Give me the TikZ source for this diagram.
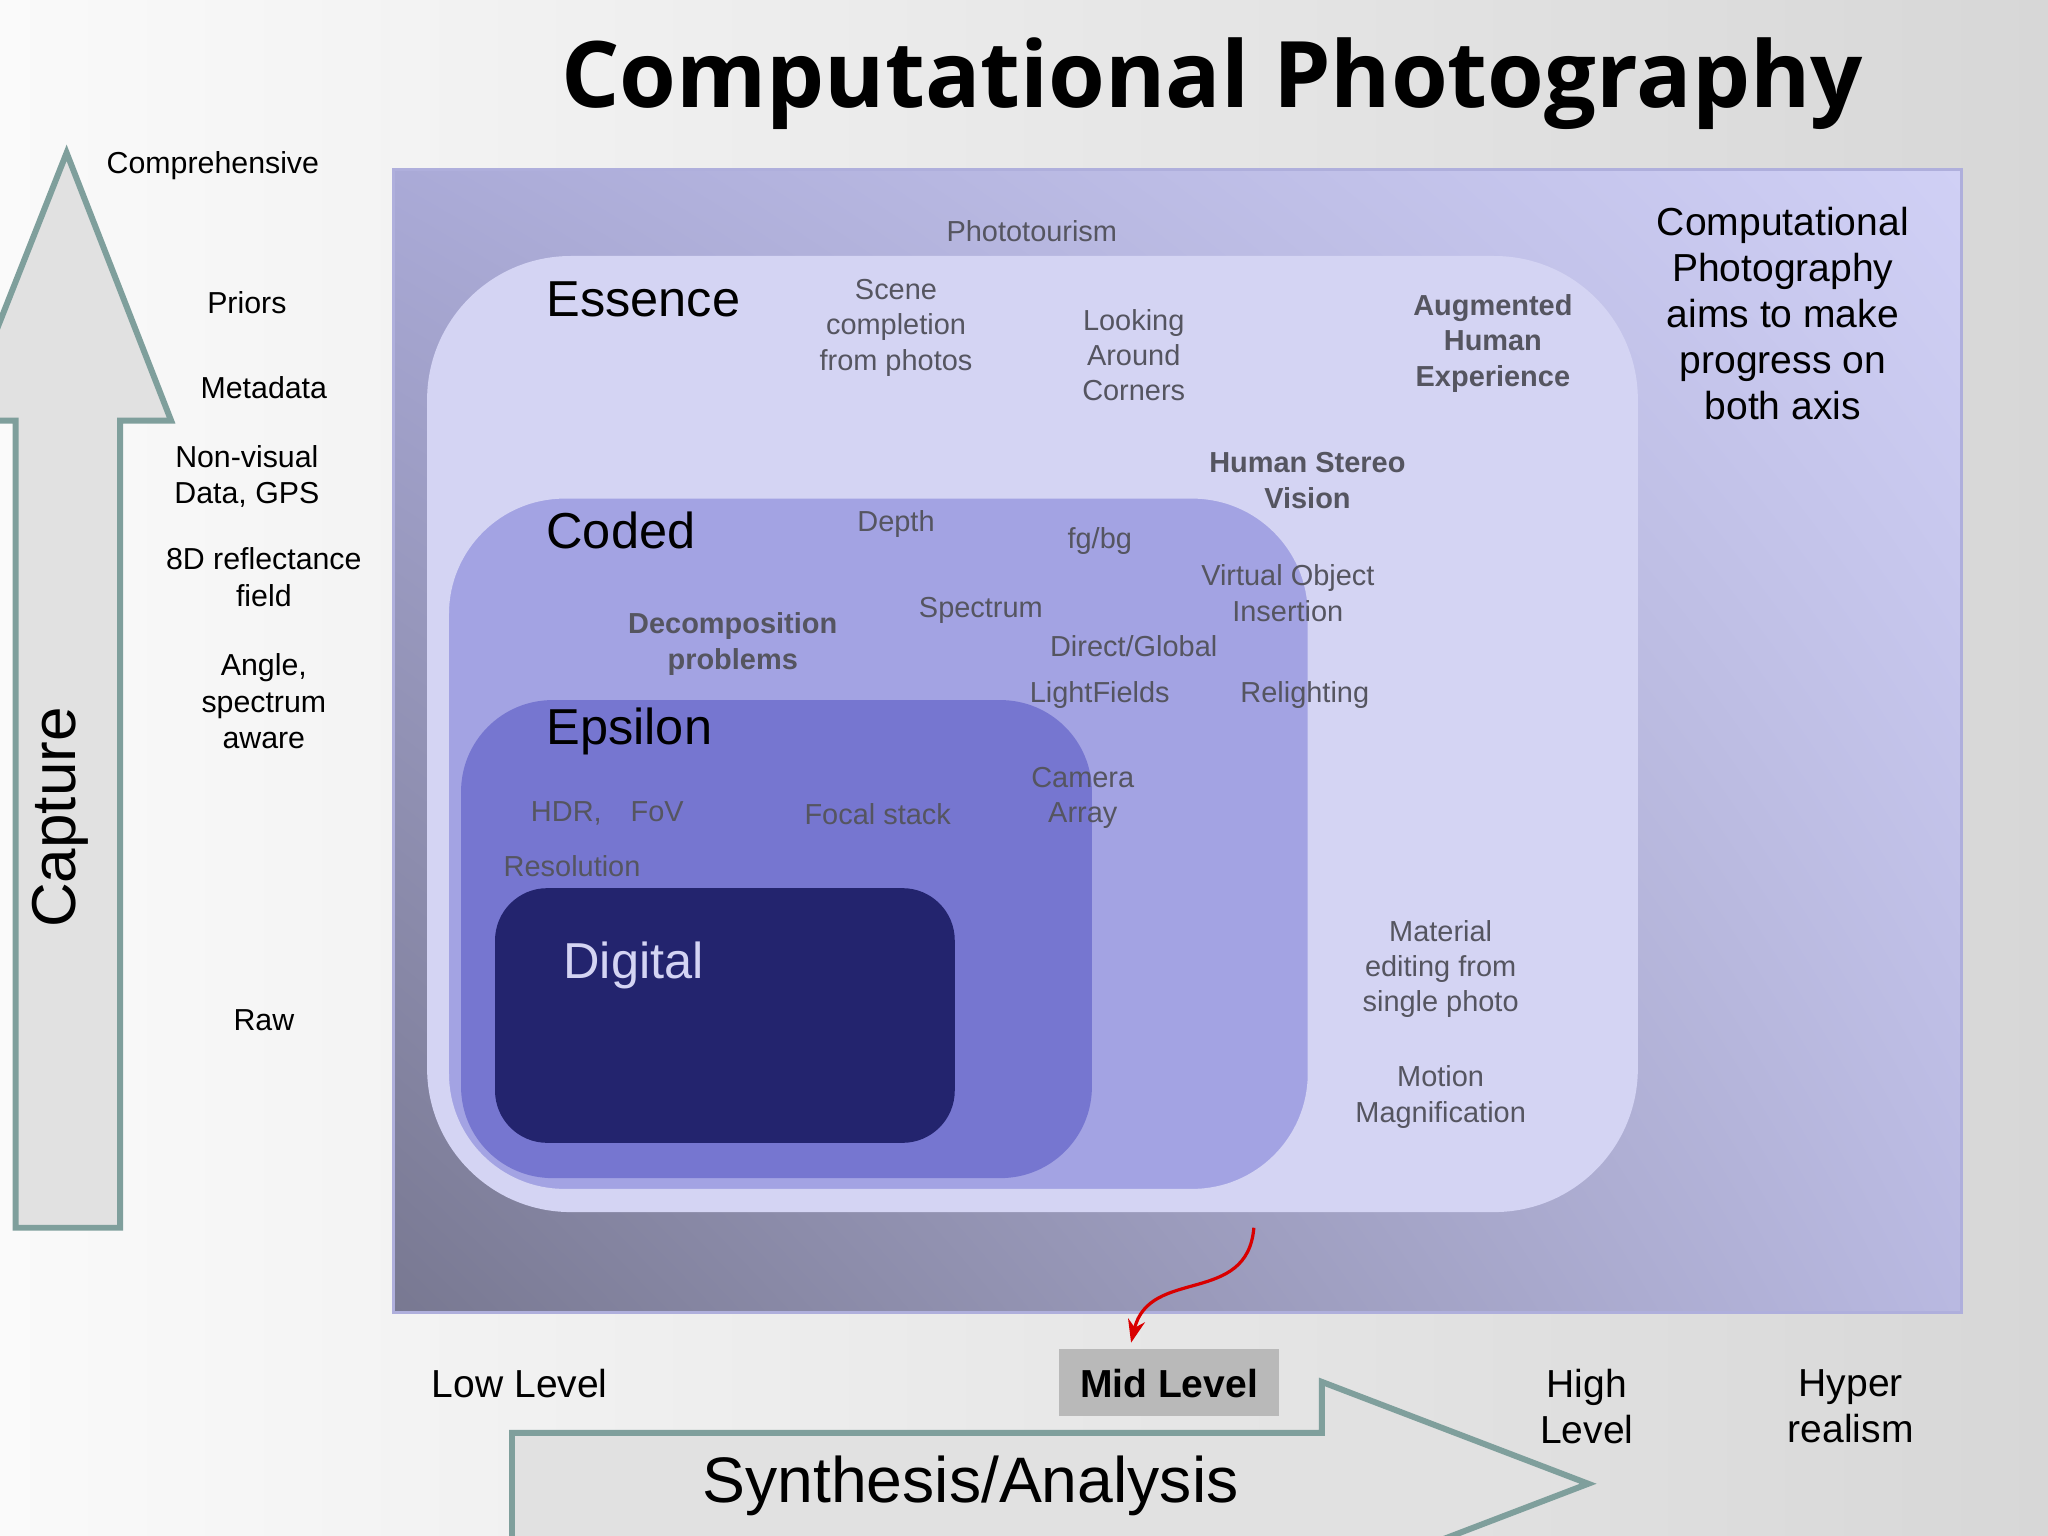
\documentclass[tikz,border=0pt]{standalone}
\usepackage{fontspec}
\setmainfont{Liberation Sans}
\newfontfamily\titlefont{Open Sans}
\usetikzlibrary{arrows.meta,shadings}
\definecolor{lbl}{HTML}{555560}
\definecolor{arw}{HTML}{7F9F9C}
\definecolor{ul}{RGB}{170,170,215}
\definecolor{ur}{RGB}{208,208,245}
\definecolor{ll}{RGB}{120,120,145}
\definecolor{lr}{RGB}{185,185,225}
\definecolor{rim}{RGB}{175,175,220}
\definecolor{cess}{RGB}{212,212,243}
\definecolor{ccod}{RGB}{163,163,227}
\definecolor{ceps}{RGB}{118,118,208}
\definecolor{cdig}{RGB}{35,36,110}
\definecolor{afill}{RGB}{225,225,225}
\definecolor{bgr}{RGB}{215,215,215}
\definecolor{bgl}{RGB}{250,250,250}
\tikzset{
 side/.style={align=center,font=\fontsize{6.6pt}{7.9pt}\selectfont},
 gl/.style={align=center,text=lbl,font=\fontsize{6.3pt}{7.7pt}\selectfont},
 glb/.style={gl,font=\fontsize{6.3pt}{7.7pt}\selectfont\bfseries},
 big/.style={anchor=west,font=\fontsize{11pt}{11pt}\selectfont},
 lev/.style={align=center,font=\fontsize{8.5pt}{10pt}\selectfont},
}
\begin{document}
\begin{tikzpicture}[x=0.01cm,y=-0.01cm]
\useasboundingbox (0,0) rectangle (1568,1176);
\shade[upper left=bgl,upper right=bgr,lower left=bgl,lower right=bgr] (0,0) rectangle (1568,1176);
\shade[upper left=ul,upper right=ur,lower left=ll,lower right=lr] (301,130) rectangle (1502,1005);
\draw[draw=rim,line width=0.6pt] (301,130) rectangle (1502,1005);
\node[font=\titlefont\bfseries\fontsize{20pt}{20pt}\selectfont] (title) at (928,64) {Computational Photography};
% regions
\fill[cess,rounded corners=1.1cm] (327,196) rectangle (1254,928);
\fill[ccod,rounded corners=0.9cm] (342,380) rectangle (1003,912);
\draw[cess,line width=1pt,rounded corners=0.9cm] (342,380) rectangle (1003,912);
\fill[ceps,rounded corners=0.7cm] (353,536) rectangle (836,902);
\fill[cdig,rounded corners=0.4cm] (379,680) rectangle (731,875);
\node[big] (ess) at (406,229) {Essence};
\node[big] (cod) at (406,406) {Coded};
\node[big] (eps) at (406,560) {Epsilon};
\node[big,text=cess] (dig) at (419,739) {Digital};
% capture arrow
\draw[arw,line width=1.3pt,fill=afill] (51,117) -- (131,322) -- (92,322) -- (92,940) -- (12,940) -- (12,322) -- (-30,322) -- cycle;
\node[rotate=90,font=\fontsize{13.5pt}{13.5pt}\selectfont] (cap) at (46,626) {Capture};
% synthesis arrow
\draw[arw,line width=1.3pt,fill=afill] (392,1200) -- (392,1097) -- (1012,1097) -- (1012,1058) -- (1216,1136) -- (1012,1214) -- (1012,1200);
\node[font=\fontsize{14pt}{14pt}\selectfont] (syn) at (743,1138) {Synthesis/Analysis};
% side labels
\node[side] (l1) at (163,127) {Comprehensive};
\node[side] (l2) at (189,232) {Priors};
\node[side] (l3) at (202,297) {Metadata};
\node[side] (l4) at (189,365) {Non-visual\\Data, GPS};
\node[side] (l5) at (202,442) {8D reflectance\\field};
\node[side] (l6) at (202,537) {Angle,\\spectrum\\aware};
\node[side] (l7) at (202,781) {Raw};
% levels
\node[lev] (low) at (398,1059) {Low Level};
\fill[gray!55] (811,1033) rectangle (979,1084);
\node[lev,font=\fontsize{8.5pt}{10pt}\selectfont\bfseries] (mid) at (895,1059) {Mid Level};
\node[lev] (high) at (1215,1077) {High\\Level};
\node[lev] (hyp) at (1417,1077) {Hyper\\realism};
\node[lev] (aim) at (1365,240) {Computational\\Photography\\aims to make\\progress on\\both axis};
\coordinate (cs) at (960,940);
\coordinate (ce) at (866,1028);
\draw[red!85!black,line width=0.7pt,-{Stealth[length=5pt]}] (cs) .. controls (955,1000) and (880,970) .. (ce);
% inner labels
\node[gl] at (790,177) {Phototourism};
\node[gl] at (686,251) {Scene\\completion\\from photos};
\node[gl] at (868,272) {Looking\\Around\\Corners};
\node[glb] at (1143,263) {Augmented\\Human\\Experience};
\node[glb] at (1001,368) {Human Stereo\\Vision};
\node[gl] at (686,401) {Depth};
\node[gl] at (842,414) {fg/bg};
\node[gl] at (986,454) {Virtual Object\\Insertion};
\node[glb] at (561,493) {Decomposition\\problems};
\node[gl] at (751,467) {Spectrum};
\node[gl] at (868,495) {Direct/Global};
\node[gl] at (842,532) {LightFields};
\node[gl] at (999,532) {Relighting};
\node[gl] at (829,611) {Camera\\Array};
\node[gl] at (465,623) {HDR,\quad FoV};
\node[gl] at (672,623) {Focal stack};
\node[gl] at (438,663) {Resolution};
\node[gl] at (1103,742) {Material\\editing from\\single photo};
\node[gl] at (1103,840) {Motion\\Magnification};
\end{tikzpicture}
\end{document}
